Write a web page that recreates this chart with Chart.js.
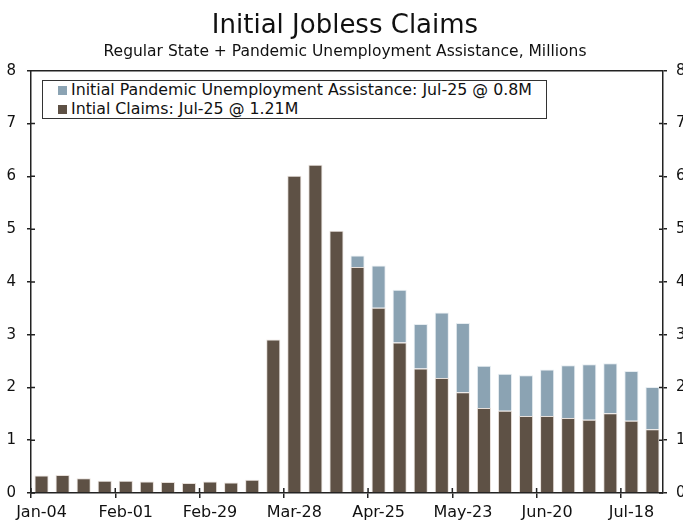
<!DOCTYPE html>
<html>
<head>
<meta charset="utf-8">
<script src="https://cdn.jsdelivr.net/npm/chart.js@4.4.1/dist/chart.umd.min.js"></script>
<style>
  html, body { margin: 0; padding: 0; background: #fff; overflow: hidden; }
  #wrap { position: relative; width: 683px; height: 520px; }
  #legend {
    position: absolute; left: 42px; top: 80px; width: 503px; height: 37px;
    border: 1px solid #333; background: #fff;
    font-family: "DejaVu Sans", Verdana, sans-serif; font-size: 15.8px; color: #111;
  }
  .legend-item { height: 18.5px; line-height: 18.5px; padding-left: 15px; white-space: nowrap; }
  .legend-swatch { display: inline-block; width: 9px; height: 9px; margin-right: 4px; vertical-align: 0px; }
</style>
</head>
<body>
<div id="wrap">
  <canvas id="claims-chart"></canvas>
  <div id="legend"></div>
</div>
<script>
// Weekly data, 2020 (millions)
const weeks = ['Jan-04', 'Jan-11', 'Jan-18', 'Jan-25', 'Feb-01', 'Feb-08', 'Feb-15', 'Feb-22',
  'Feb-29', 'Mar-07', 'Mar-14', 'Mar-21', 'Mar-28', 'Apr-04', 'Apr-11', 'Apr-18', 'Apr-25',
  'May-02', 'May-09', 'May-16', 'May-23', 'May-30', 'Jun-06', 'Jun-13', 'Jun-20', 'Jun-27',
  'Jul-04', 'Jul-11', 'Jul-18', 'Jul-25'];
const initialClaims = [0.33, 0.34, 0.28, 0.23, 0.23, 0.22, 0.21, 0.19, 0.22, 0.20, 0.25, 2.91,
  6.01, 6.22, 4.97, 4.28, 3.51, 2.85, 2.36, 2.18, 1.91, 1.61, 1.56, 1.46, 1.46, 1.42, 1.39,
  1.51, 1.37, 1.21];
const puaClaims = [0, 0, 0, 0, 0, 0, 0, 0, 0, 0, 0, 0, 0, 0, 0, 0.22, 0.80, 1.00, 0.84, 1.24,
  1.31, 0.80, 0.70, 0.77, 0.88, 1.00, 1.05, 0.95, 0.94, 0.80];
const yTicks = [0, 1, 2, 3, 4, 5, 6, 7, 8];
const labelEvery = 4;

const axisColor = '#222';
const fontFamily = '"DejaVu Sans", Verdana, sans-serif';

// Box on top and tick marks that cross the axes
const frameTicks = {
  id: 'frameTicks',
  afterDraw(chart) {
    const ctx = chart.ctx;
    const area = chart.chartArea;
    const xs = chart.scales.x;
    const yl = chart.scales.y;
    const yr = chart.scales.yRight;
    ctx.save();
    ctx.strokeStyle = axisColor;
    ctx.lineWidth = 1.5;
    ctx.beginPath();
    ctx.moveTo(area.left, area.top);
    ctx.lineTo(area.right, area.top);
    const step = xs.getPixelForValue(1) - xs.getPixelForValue(0);
    for (let i = 0; i < weeks.length; i += labelEvery) {
      const x = xs.getPixelForValue(i) - step / 2;
      ctx.moveTo(x, area.bottom);
      ctx.lineTo(x, area.bottom - 5);
    }
    yTicks.forEach(v => {
      const y = yl.getPixelForValue(v);
      ctx.moveTo(area.left, y);
      ctx.lineTo(area.left + 4, y);
      const y2 = yr.getPixelForValue(v);
      ctx.moveTo(area.right, y2);
      ctx.lineTo(area.right - 4, y2);
    });
    ctx.stroke();
    ctx.restore();
  }
};

const yAxis = (position, width, pad) => ({
  position: position,
  display: true,
  min: 0,
  max: 8,
  afterBuildTicks: scale => { scale.ticks = yTicks.map(v => ({ value: v })); },
  afterFit: scale => { scale.width = width; },
  grid: { drawOnChartArea: false, tickLength: 4, color: axisColor, lineWidth: 1.5 },
  border: { display: true, color: axisColor, width: 1.5 },
  ticks: { color: '#111', padding: pad, font: { family: fontFamily, size: 15 } }
});

const chart = new Chart(document.getElementById('claims-chart'), {
  type: 'bar',
  data: {
    labels: weeks,
    datasets: [
      {
        label: 'Intial Claims: Jul-25 @ 1.21M',
        data: initialClaims,
        backgroundColor: '#5e5145',
        borderColor: 'rgba(225, 215, 208, 0.8)',
        borderWidth: 1
      },
      {
        label: 'Initial Pandemic Unemployment Assistance: Jul-25 @ 0.8M',
        data: puaClaims,
        backgroundColor: '#8ba3b3',
        borderColor: 'rgba(225, 232, 238, 0.8)',
        borderWidth: 1
      }
    ]
  },
  options: {
    responsive: true,
    maintainAspectRatio: false,
    animation: false,
    categoryPercentage: 1,
    barPercentage: 0.67,
    // right side runs past the window so the right tick labels get cut, as in the source
    layout: { padding: { top: 3, left: 0, right: -7, bottom: 0 } },
    plugins: {
      legend: { display: false },
      tooltip: { enabled: false },
      title: {
        display: true,
        text: 'Initial Jobless Claims',
        color: '#111',
        font: { family: fontFamily, size: 26, weight: 'normal' },
        padding: { top: 8, bottom: 0 }
      },
      subtitle: {
        display: true,
        text: 'Regular State + Pandemic Unemployment Assistance, Millions',
        color: '#111',
        font: { family: fontFamily, size: 15.5 },
        padding: { top: 0, bottom: 10 }
      }
    },
    scales: {
      x: {
        stacked: true,
        offset: true,
        afterFit: scale => { scale.height = 27; },
        grid: {
          offset: true,
          drawOnChartArea: false,
          tickLength: 5,
          lineWidth: 1.5,
          color: ctx => (ctx.index % labelEvery === 0 ? axisColor : 'rgba(0,0,0,0)')
        },
        border: { display: true, color: axisColor, width: 1.5 },
        ticks: {
          autoSkip: false,
          maxRotation: 0,
          padding: 5,
          color: '#111',
          font: { family: fontFamily, size: 16 },
          callback: (value, i) => (i % labelEvery === 0 ? weeks[i] : '')
        }
      },
      y: Object.assign(yAxis('left', 31, 11), { stacked: true }),
      yRight: yAxis('right', 27, 9)
    }
  },
  plugins: [frameTicks]
});

// Legend box, built from the datasets (PUA listed first)
const legendEl = document.getElementById('legend');
chart.data.datasets.slice().reverse().forEach(ds => {
  const item = document.createElement('div');
  item.classList.add('legend-item');
  const swatch = document.createElement('span');
  swatch.classList.add('legend-swatch');
  swatch.style.background = ds.backgroundColor;
  item.appendChild(swatch);
  item.appendChild(document.createTextNode(ds.label));
  legendEl.appendChild(item);
});
</script>
</body>
</html>
